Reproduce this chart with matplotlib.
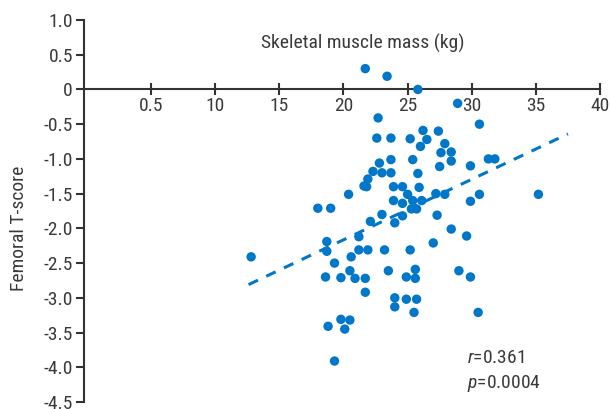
import matplotlib
matplotlib.use("Agg")
import matplotlib.pyplot as plt
from matplotlib import font_manager as fm

# ---- data ----
muscle_mass = [21.7, 23.4, 25.8, 28.9, 22.7, 30.6, 26.2, 27.4, 22.6, 23.7,
               25.2, 26.5, 26.0, 27.9, 27.6, 28.4, 28.4, 27.5, 29.9, 31.3,
               31.8, 22.8, 23.7, 25.4, 22.3, 23.0, 23.7, 25.8, 21.9, 21.6,
               21.8, 20.4, 23.9, 24.6, 25.9, 25.0, 27.2, 27.9, 30.6, 35.2,
               23.9, 24.6, 25.4, 26.1, 29.9, 25.3, 25.7, 18.0, 19.0, 23.0,
               24.6, 27.3, 22.1, 24.0, 28.4, 29.6, 21.2, 18.7, 27.0, 18.7,
               21.2, 21.9, 23.2, 25.2, 12.8, 20.6, 19.3, 20.5, 23.5, 25.6,
               29.0, 18.6, 19.8, 20.9, 21.7, 24.9, 25.6, 29.9, 21.7, 24.0,
               24.9, 25.7, 24.0, 25.5, 30.5, 19.8, 20.5, 18.8, 20.1, 19.3]
t_score = [0.30, 0.19, 0.0, -0.20, -0.41, -0.50, -0.59, -0.60, -0.70, -0.70,
           -0.71, -0.72, -0.82, -0.78, -0.91, -0.90, -1.03, -1.11, -1.10, -1.00,
           -1.00, -1.06, -1.01, -1.01, -1.18, -1.20, -1.20, -1.21, -1.29, -1.39,
           -1.40, -1.51, -1.40, -1.40, -1.41, -1.51, -1.50, -1.51, -1.51, -1.51,
           -1.60, -1.64, -1.60, -1.60, -1.61, -1.72, -1.72, -1.71, -1.71, -1.80,
           -1.82, -1.81, -1.90, -1.92, -2.01, -2.11, -2.12, -2.19, -2.21, -2.33,
           -2.31, -2.31, -2.31, -2.31, -2.41, -2.41, -2.50, -2.61, -2.61, -2.59,
           -2.61, -2.70, -2.71, -2.72, -2.72, -2.70, -2.72, -2.70, -2.92, -3.00,
           -3.02, -3.02, -3.13, -3.21, -3.21, -3.31, -3.32, -3.41, -3.45, -3.91]

fit_x = [12.6, 37.5]
fit_y = [-2.81, -0.64]

x_ticks = [5, 10, 15, 20, 25, 30, 35, 40]
x_tick_labels = ["0.5", "10", "15", "20", "25", "30", "35", "40"]
y_ticks = [1.0, 0.5, 0, -0.5, -1.0, -1.5, -2.0, -2.5, -3.0, -3.5, -4.0, -4.5]
y_tick_labels = ["1.0", "0.5", "0", "-0.5", "-1.0", "-1.5", "-2.0", "-2.5",
                 "-3.0", "-3.5", "-4.0", "-4.5"]

x_title = "Skeletal muscle mass (kg)"
y_title = "Femoral T-score"
stat_r = "0.361"
stat_p = "0.0004"

# ---- font choice ----
available = {f.name for f in fm.fontManager.ttflist}
candidates = ["Roboto Condensed", "Liberation Sans Narrow", "Archivo Narrow",
              "PT Sans Narrow", "Fira Sans Condensed", "Encode Sans Condensed",
              "Asap Condensed", "Liberation Sans"]
chosen = next((c for c in candidates if c in available), "DejaVu Sans")

plt.rcParams["font.family"] = [chosen, "DejaVu Sans"]
plt.rcParams["mathtext.fontset"] = "custom"
plt.rcParams["mathtext.rm"] = chosen
plt.rcParams["mathtext.it"] = chosen + ":italic"

BLUE = "#0077c8"
TXT = "#3a3a3a"
AX = "#333333"
FS = 14

fig = plt.figure(figsize=(6.11, 4.09), dpi=100)
ax = fig.add_axes([84 / 611, (409 - 402) / 409, 516 / 611, 382 / 409])
ax.set_xlim(-0.23, 40.0)
ax.set_ylim(-4.5, 1.0)

ax.plot(fit_x, fit_y, color=BLUE, lw=2.2, dashes=(3.4, 3.0), zorder=2)
ax.scatter(muscle_mass, t_score, s=46, color=BLUE, edgecolors="none", zorder=3)

for s in ["top", "right"]:
    ax.spines[s].set_visible(False)
ax.spines["bottom"].set_position(("data", 0))
ax.spines["left"].set_position(("data", -0.23))
for s in ["bottom", "left"]:
    ax.spines[s].set_color(AX)
    ax.spines[s].set_linewidth(1.5)

ax.set_xticks(x_ticks)
ax.set_xticklabels(x_tick_labels)
ax.set_yticks(y_ticks)
ax.set_yticklabels(y_tick_labels)
ax.tick_params(axis="x", direction="inout", length=9, width=1.5, colors=AX,
               labelcolor=TXT, labelsize=FS, pad=1)
ax.tick_params(axis="y", direction="out", length=6, width=1.5, colors=AX,
               labelcolor=TXT, labelsize=FS, pad=2)

ax.text(21.5, 0.67, x_title, ha="center", va="center", fontsize=FS, color=TXT)
fig.text(19 / 611, 1 - 228 / 409, y_title, rotation=90, ha="center",
         va="center", fontsize=FS, color=TXT)
ax.text(29.6, -3.87, r"$\it{r}$=" + stat_r, ha="left", va="center",
        fontsize=FS, color=TXT)
ax.text(29.6, -4.23, r"$\it{p}$=" + stat_p, ha="left", va="center",
        fontsize=FS, color=TXT)

fig.savefig("out.png", dpi=100)
